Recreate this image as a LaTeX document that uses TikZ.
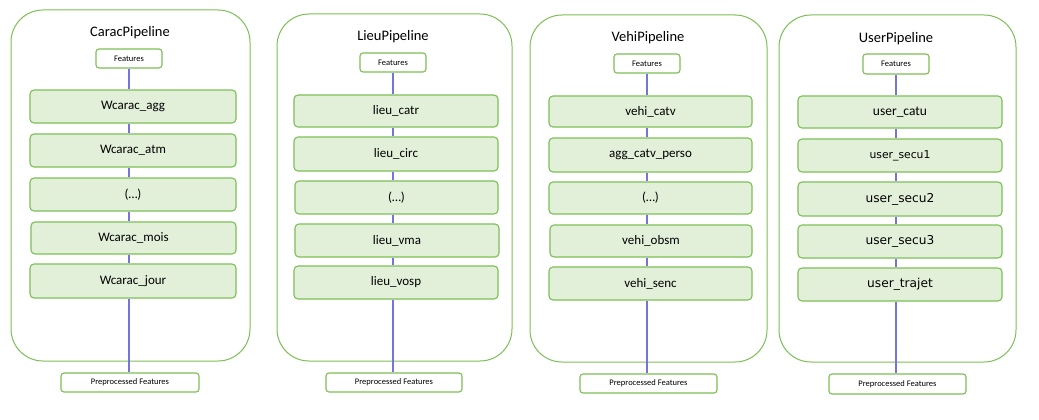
\documentclass[tikz,border=0pt]{standalone}
\usepackage{fontspec}
\setmainfont{Carlito}
\newfontfamily\dvfont{DejaVu Sans}
\definecolor{gborder}{HTML}{7DBF55}
\definecolor{gfill}{HTML}{E2F0D9}
\definecolor{conncol}{HTML}{7474DC}
\newcommand{\mkbox}[7]{\node[#6, minimum width={(#4-#2)*1pt}, minimum height={(#5-#3)*1pt}] (#1) at ({(#2+#4)/2},{(#3+#5)/2}) {#7};}
\tikzset{
  container/.style={draw=gborder, line width=1pt, rounded corners=32pt, inner sep=0pt, fill=white},
  stepbox/.style={draw=gborder, line width=1.1pt, fill=gfill, rounded corners=4pt, inner sep=0pt, font=\fontsize{13}{15}\selectfont},
  featbox/.style={draw=gborder, line width=1.1pt, fill=white, rounded corners=3pt, inner sep=0pt, font=\fontsize{8.5}{10}\selectfont},
  ptitle/.style={inner sep=0pt, font=\fontsize{14.5}{17}\selectfont},
  conn/.style={draw=conncol, line width=1.15pt},
}
\begin{document}
\begin{tikzpicture}[x=1pt,y=-1pt]
\useasboundingbox (0,0) rectangle (1039,420);
% ---------- Panel 1 ----------
\mkbox{c1}{11}{10}{250}{361}{container}{}
\node[ptitle] (t1) at (130,33) {CaracPipeline};
\mkbox{f1}{96}{49}{162}{68}{featbox}{Features}
\mkbox{a1}{30}{90}{236}{123}{stepbox}{Wcarac\_agg}
\mkbox{a2}{30}{134}{236}{167}{stepbox}{Wcarac\_atm}
\mkbox{a3}{30}{178}{236}{211}{stepbox}{(…)}
\mkbox{a4}{31}{222}{236}{254}{stepbox}{Wcarac\_mois}
\mkbox{a5}{30}{264}{236}{298}{stepbox}{Wcarac\_jour}
\mkbox{p1}{61}{373}{199}{392}{featbox}{Preprocessed Features}
% ---------- Panel 2 ----------
\mkbox{c2}{277}{14}{512}{361}{container}{}
\node[ptitle] (t2) at (393,37) {LieuPipeline};
\mkbox{f2}{360}{53}{426}{72}{featbox}{Features}
\mkbox{b1}{294}{95}{498}{127}{stepbox}{lieu\_catr}
\mkbox{b2}{294}{137}{498}{171}{stepbox}{lieu\_circ}
\mkbox{b3}{295}{181}{498}{214}{stepbox}{(…)}
\mkbox{b4}{295}{224}{499}{257}{stepbox}{lieu\_vma}
\mkbox{b5}{294}{266}{498}{299}{stepbox}{lieu\_vosp}
\mkbox{p2}{326}{373}{462}{392}{featbox}{Preprocessed Features}
% ---------- Panel 3 ----------
\mkbox{c3}{530}{15}{767}{362}{container}{}
\node[ptitle] (t3) at (648,38) {VehiPipeline};
\mkbox{f3}{614}{54}{680}{73}{featbox}{Features}
\mkbox{v1}{549}{96}{752}{127}{stepbox}{vehi\_catv}
\mkbox{v2}{549}{138}{752}{172}{stepbox}{agg\_catv\_perso}
\mkbox{v3}{549}{182}{752}{214}{stepbox}{(…)}
\mkbox{v4}{550}{225}{752}{257}{stepbox}{vehi\_obsm}
\mkbox{v5}{549}{267}{752}{300}{stepbox}{vehi\_senc}
\mkbox{p3}{580}{374}{717}{393}{featbox}{Preprocessed Features}
% ---------- Panel 4 ----------
\mkbox{c4}{779}{15}{1016}{362}{container}{}
\node[ptitle] (t4) at (896,39) {UserPipeline};
\mkbox{f4}{863}{54}{929}{74}{featbox}{Features}
\mkbox{u1}{798}{96}{1002}{128}{stepbox,font=\fontsize{13.5}{16}\selectfont}{user\_catu}
\mkbox{u2}{798}{139}{1002}{172}{stepbox,font=\dvfont\fontsize{10.8}{13}\selectfont}{user\_secu1}
\mkbox{u3}{798}{182}{1002}{216}{stepbox,font=\dvfont\fontsize{12.2}{14}\selectfont}{user\_secu2}
\mkbox{u4}{798}{225}{1002}{258}{stepbox,font=\dvfont\fontsize{12.2}{14}\selectfont}{user\_secu3}
\mkbox{u5}{798}{268}{1002}{301}{stepbox,font=\dvfont\fontsize{12.2}{14}\selectfont}{user\_trajet}
\mkbox{p4}{829}{374}{966}{394}{featbox}{Preprocessed Features}
% ---------- connectors ----------
\draw[conn] (f1.south) -- (f1.south |- a1.north);
\draw[conn] (f1.south |- a1.south) -- (f1.south |- a2.north);
\draw[conn] (f1.south |- a2.south) -- (f1.south |- a3.north);
\draw[conn] (f1.south |- a3.south) -- (f1.south |- a4.north);
\draw[conn] (f1.south |- a4.south) -- (f1.south |- a5.north);
\draw[conn] (f1.south |- a5.south) -- (f1.south |- p1.north);
\draw[conn] (f2.south) -- (f2.south |- b1.north);
\draw[conn] (f2.south |- b1.south) -- (f2.south |- b2.north);
\draw[conn] (f2.south |- b2.south) -- (f2.south |- b3.north);
\draw[conn] (f2.south |- b3.south) -- (f2.south |- b4.north);
\draw[conn] (f2.south |- b4.south) -- (f2.south |- b5.north);
\draw[conn] (f2.south |- b5.south) -- (f2.south |- p2.north);
\draw[conn] (f3.south) -- (f3.south |- v1.north);
\draw[conn] (f3.south |- v1.south) -- (f3.south |- v2.north);
\draw[conn] (f3.south |- v2.south) -- (f3.south |- v3.north);
\draw[conn] (f3.south |- v3.south) -- (f3.south |- v4.north);
\draw[conn] (f3.south |- v4.south) -- (f3.south |- v5.north);
\draw[conn] (f3.south |- v5.south) -- (f3.south |- p3.north);
\draw[conn] (f4.south) -- (f4.south |- u1.north);
\draw[conn] (f4.south |- u1.south) -- (f4.south |- u2.north);
\draw[conn] (f4.south |- u2.south) -- (f4.south |- u3.north);
\draw[conn] (f4.south |- u3.south) -- (f4.south |- u4.north);
\draw[conn] (f4.south |- u4.south) -- (f4.south |- u5.north);
\draw[conn] (f4.south |- u5.south) -- (f4.south |- p4.north);
\end{tikzpicture}
\end{document}
